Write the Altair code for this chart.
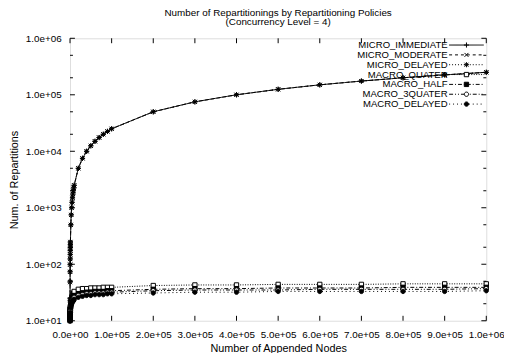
import altair as alt
import pandas as pd

FONT = "Liberation Sans"

SERIES = ["MICRO_IMMEDIATE", "MICRO_MODERATE", "MICRO_DELAYED",
          "MACRO_QUATER", "MACRO_HALF", "MACRO_3QUATER", "MACRO_DELAYED"]

X = [100, 200, 300, 400, 500, 600, 700, 800, 900,
     1000, 2000, 3000, 4000, 5000, 6000, 7000, 8000, 9000,
     10000, 20000, 30000, 40000, 50000, 60000, 70000, 80000, 90000,
     100000, 200000, 300000, 400000, 500000, 600000, 700000, 800000, 900000, 1000000]

MICRO_IMMEDIATE = [25, 50, 75, 100, 125, 150, 175, 200, 225,
                   250, 500, 750, 1000, 1250, 1500, 1750, 2000, 2250,
                   2500, 5000, 7500, 10000, 12500, 15000, 17500, 20000, 22500,
                   25000, 50000, 75000, 100000, 125000, 150000, 175000, 200000, 225000, 250000]
MICRO_MODERATE = [24, 49, 74, 99, 124, 149, 174, 199, 224,
                  249, 499, 749, 999, 1249, 1499, 1749, 1999, 2249,
                  2499, 4999, 7499, 9999, 12499, 14999, 17499, 19999, 22499,
                  24999, 49999, 74999, 99999, 124999, 149999, 174999, 199999, 224999, 249999]
MICRO_DELAYED = [23, 48, 73, 98, 123, 148, 173, 198, 223,
                 248, 498, 748, 998, 1248, 1498, 1748, 1998, 2248,
                 2498, 4998, 7498, 9998, 12498, 14998, 17498, 19998, 22498,
                 24998, 49998, 74998, 99998, 124998, 149998, 174998, 199998, 224998, 249998]
MACRO_QUATER = [11, 12, 13, 14, 15, 16, 16, 17, 17,
                18, 22, 24, 26, 27, 28, 29, 30, 31,
                33, 36, 37, 37, 38, 38, 38, 39, 39,
                39, 42, 43, 43, 44, 44, 44, 45, 45, 45]
MACRO_HALF = [10, 11, 12, 13, 13, 14, 14, 15, 15,
              16, 19, 21, 23, 24, 25, 26, 26, 27,
              28, 30, 31, 32, 32, 33, 33, 33, 34,
              34, 36, 37, 37, 38, 38, 38, 39, 39, 39]
MACRO_3QUATER = [10, 11, 11, 12, 12, 13, 13, 14, 14,
                 15, 18, 20, 21, 22, 23, 24, 24, 25,
                 26, 28, 29, 30, 30, 31, 31, 31, 32,
                 32, 34, 35, 35, 35, 36, 36, 36, 36, 37]
MACRO_DELAYED = [10, 10, 11, 11, 12, 12, 12, 13, 13,
                 14, 17, 19, 20, 21, 22, 22, 23, 23,
                 24, 26, 27, 28, 28, 29, 29, 29, 30,
                 30, 31, 32, 32, 33, 33, 33, 33, 33, 34]

VALUES = [MICRO_IMMEDIATE, MICRO_MODERATE, MICRO_DELAYED,
          MACRO_QUATER, MACRO_HALF, MACRO_3QUATER, MACRO_DELAYED]

Y_MAJOR = [10, 100, 1000, 10000, 100000, 1000000]
Y_MINOR = [20, 50, 200, 500, 2000, 5000, 20000, 50000, 200000, 500000]
X_MAJOR = [0, 100000, 200000, 300000, 400000, 500000, 600000, 700000, 800000, 900000, 1000000]

DASHES = [[1, 0], [3, 3], [1, 2], [1, 1.5], [4, 2, 1, 2], [4, 2, 1, 2, 1, 2], [1, 3]]
PLUS = "M-0.65,0H0.65M0,-0.65V0.65"
CROSS = "M-0.5,-0.5L0.5,0.5M-0.5,0.5L0.5,-0.5"
STAR = "M-0.65,0H0.65M0,-0.65V0.65M-0.5,-0.5L0.5,0.5M-0.5,0.5L0.5,-0.5"
SQUARE = "M-0.55,-0.55H0.55V0.55H-0.55Z"
CIRCLE = "M0.55,0A0.55,0.55,0,1,1,-0.55,0A0.55,0.55,0,1,1,0.55,0Z"
SHAPES = [PLUS, CROSS, STAR, SQUARE, SQUARE, CIRCLE, CIRCLE]
FILLS = ["black", "black", "black", "white", "black", "white", "black"]
BLACKS = ["black"] * 7

# marker key (separate domain so the marker legend stays separate from the line legend)
MARKER_KEYS = [s.lower() for s in SERIES]

rows = []
for name, key, vals in zip(SERIES, MARKER_KEYS, VALUES):
    for xv, yv in zip(X, vals):
        rows.append({"x": xv, "y": yv, "series": name, "marker": key})
df = pd.DataFrame(rows)

W, H = 423, 287
LX, LY = 398, 2
MAJ, MIN = 5, 3

xscale = alt.Scale(domain=[0, 1000000], nice=False, zero=False)
yscale = alt.Scale(type="log", domain=[10, 1000000], nice=False)

x_axis = alt.Axis(values=X_MAJOR, ticks=False, domain=False, grid=False,
                  labelExpr="datum.value == 0 ? '0.0e+00' : (datum.value >= 1000000 ? format(datum.value/1000000, '.1f') + 'e+06' : format(datum.value/100000, '.1f') + 'e+05')",
                  labelPadding=9, titlePadding=3, labelFlush=False, labelOverlap=False,
                  titleFontWeight="normal")
y_axis = alt.Axis(values=Y_MAJOR, ticks=False, domain=False, grid=False,
                  labelExpr="'1.0e+0' + format(log(datum.value)/LN10, '.0f')",
                  labelPadding=9, titlePadding=6, labelFlush=False, labelOverlap=False,
                  titleFontWeight="normal")


def xenc(field):
    return alt.X(field, type="quantitative", scale=xscale, axis=x_axis, title="Number of Appended Nodes")


def yenc(field):
    return alt.Y(field, type="quantitative", scale=yscale, axis=y_axis, title="Num. of Repartitions")


common_leg = dict(orient="none", legendX=LX, legendY=LY, title=None, symbolSize=64,
                  symbolStrokeWidth=1, symbolStrokeColor="black", labelAlign="right",
                  labelOffset={"expr": "-24"}, labelFontSize=9.7, labelFont=FONT,
                  rowPadding={"expr": "-1.7"}, padding=0, labelLimit=0)

line_leg = alt.Legend(symbolType="M-4.4,0H4.4", labelColor="black", **common_leg)
point_leg = alt.Legend(labelExpr="''", labelColor="black", **common_leg)

lines = alt.Chart(df).mark_line(strokeWidth=1).encode(
    x=xenc("x"), y=yenc("y"),
    stroke=alt.Stroke("series:N", scale=alt.Scale(domain=SERIES, range=BLACKS), legend=line_leg),
    strokeDash=alt.StrokeDash("series:N", scale=alt.Scale(domain=SERIES, range=DASHES), legend=line_leg),
)

points = alt.Chart(df).mark_point(size=64, strokeWidth=1, opacity=1).encode(
    x=xenc("x"), y=yenc("y"),
    color=alt.Color("marker:N", scale=alt.Scale(domain=MARKER_KEYS, range=BLACKS), legend=point_leg),
    shape=alt.Shape("marker:N", scale=alt.Scale(domain=MARKER_KEYS, range=SHAPES), legend=point_leg),
    fill=alt.Fill("marker:N", scale=alt.Scale(domain=MARKER_KEYS, range=FILLS), legend=point_leg),
)

ymaj = pd.DataFrame({"v": Y_MAJOR})
ymin = pd.DataFrame({"v": Y_MINOR})
xmaj = pd.DataFrame({"v": X_MAJOR})

tick_layers = [
    alt.Chart(ymaj).mark_rule(color="black", strokeWidth=1).encode(y=yenc("v"), x=alt.value(0), x2=alt.value(MAJ)),
    alt.Chart(ymaj).mark_rule(color="black", strokeWidth=1).encode(y=yenc("v"), x=alt.value(W - MAJ), x2=alt.value(W)),
    alt.Chart(ymin).mark_rule(color="black", strokeWidth=1).encode(y=yenc("v"), x=alt.value(0), x2=alt.value(MIN)),
    alt.Chart(ymin).mark_rule(color="black", strokeWidth=1).encode(y=yenc("v"), x=alt.value(W - MIN), x2=alt.value(W)),
    alt.Chart(xmaj).mark_rule(color="black", strokeWidth=1).encode(x=xenc("v"), y=alt.value(H - MAJ), y2=alt.value(H)),
    alt.Chart(xmaj).mark_rule(color="black", strokeWidth=1).encode(x=xenc("v"), y=alt.value(0), y2=alt.value(MAJ)),
]

chart = alt.layer(lines, points, *tick_layers).properties(
    width=W, height=H,
    title=alt.Title(["Number of Repartitionings by Repartitioning Policies", "(Concurrency Level = 4)"],
                    font=FONT, fontSize=10, fontWeight="normal", color="black",
                    anchor="middle", offset=6, lineHeight=10),
    autosize=alt.AutoSizeParams(type="none"),
    padding={"left": 63, "top": 28, "right": 18, "bottom": 30},
).configure_view(
    stroke="black", strokeWidth=1
).configure_axis(
    labelFont=FONT, labelFontSize=9, labelColor="black",
    titleFont=FONT, titleFontSize=9, titleFontWeight="normal", titleColor="black",
).configure(background="white")

chart.save("out.html", embed_options={"renderer": "svg", "actions": False})
